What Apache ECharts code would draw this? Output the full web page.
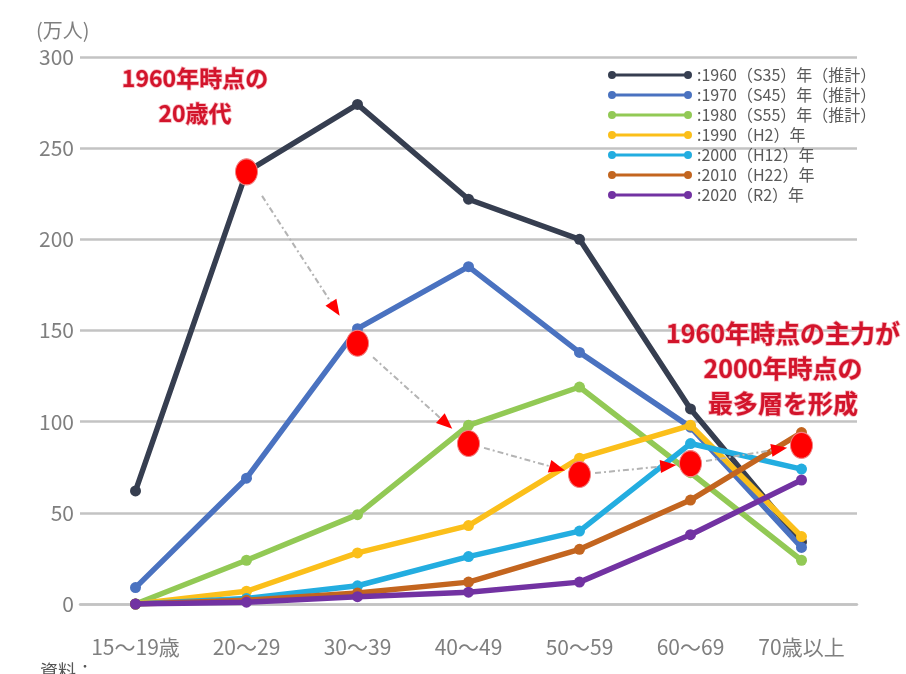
<!DOCTYPE html>
<html>
<head>
<meta charset="utf-8">
<script src="https://cdn.jsdelivr.net/npm/echarts@6/dist/echarts.min.js"></script>
<style>
html,body{margin:0;padding:0;background:#fff;}
#chart{width:906px;height:674px;}
</style>
</head>
<body>
<div id="chart"></div>
<script>
// ---- data ----
const categories = ['15～19歳', '20～29', '30～39', '40～49', '50～59', '60～69', '70歳以上'];
const seriesNames = [
  ':1960（S35）年（推計）',
  ':1970（S45）年（推計）',
  ':1980（S55）年（推計）',
  ':1990（H2）年',
  ':2000（H12）年',
  ':2010（H22）年',
  ':2020（R2）年'
];
const v1960 = [62, 237, 274, 222, 200, 107, 34];
const v1970 = [9, 69, 151, 185, 138, 97, 31];
const v1980 = [0, 24, 49, 98, 119, 72, 24];
const v1990 = [0, 7, 28, 43, 80, 98, 37];
const v2000 = [0, 3, 10, 26, 40, 88, 74];
const v2010 = [0, 2, 6, 12, 30, 57, 94];
const v2020 = [0, 1, 4, 6.5, 12, 38, 68];
// cohort in its 20s in 1960, followed decade by decade
const cohortX = [1, 2, 3, 4, 5, 6];
const cohortY = [237, 143, 88, 71, 77, 87];
const yMin = 0, yMax = 300, yStep = 50;
const note1 = ['1960年時点の', '20歳代'];
const note2 = ['1960年時点の主力が', '2000年時点の', '最多層を形成'];
const unitLabel = '(万人)';
const sourceLabel = '資料：';

// ---- styles ----
const colors = ['#363e50', '#4a72c0', '#92c955', '#fbbf1a', '#23ade0', '#c3651f', '#7232a2'];
const FONT = "'Noto Sans CJK JP', sans-serif";
const ICON = 'path://M4,0A4,4,0,1,1,4,8A4,4,0,1,1,4,0ZM80,0A4,4,0,1,1,80,8A4,4,0,1,1,80,0ZM4,2.5L80,2.5L80,5.5L4,5.5Z';

const allValues = [v1960, v1970, v1980, v1990, v2000, v2010, v2020];

const lineSeries = allValues.map((vals, i) => ({
  name: seriesNames[i],
  type: 'line',
  data: vals,
  symbol: 'circle',
  symbolSize: 11,
  lineStyle: { width: 5.5, color: colors[i] },
  itemStyle: { color: colors[i] },
  z: 2 + i * 0.01,
  animation: false
}));

const cohortPts = cohortX.map((x, i) => [x, cohortY[i]]);
function lerp(a, b, t) { return [a[0] + (b[0] - a[0]) * t, a[1] + (b[1] - a[1]) * t]; }
const guideLines = [];
const headLines = [];
for (let i = 0; i < cohortPts.length - 1; i++) {
  const a = cohortPts[i], b = cohortPts[i + 1];
  guideLines.push([{ coord: lerp(a, b, 0.14) }, { coord: lerp(a, b, 0.8) }]);
  headLines.push([{ coord: lerp(a, b, 0.78) }, { coord: lerp(a, b, 0.8) }]);
}

const option = {
  backgroundColor: '#ffffff',
  animation: false,
  textStyle: { fontFamily: FONT },
  grid: { left: 80, right: 49, top: 57, bottom: 70, containLabel: false },
  legend: {
    data: seriesNames,
    orient: 'vertical',
    left: 603,
    top: 60,
    itemWidth: 84,
    itemHeight: 8,
    itemGap: 0,
    icon: ICON,
    textStyle: { fontFamily: FONT, fontSize: 16, color: '#595959', lineHeight: 20 }
  },
  xAxis: [
    {
      type: 'category',
      data: categories,
      boundaryGap: true,
      axisLine: { show: true, lineStyle: { color: '#c3c3c3', width: 2.5 } },
      axisTick: { show: false },
      axisLabel: { color: '#7f7f7f', fontSize: 21, margin: 33, interval: 0, hideOverlap: false, fontFamily: FONT }
    },
    {
      type: 'value',
      min: -0.5,
      max: 6.5,
      show: false
    }
  ],
  yAxis: {
    type: 'value',
    min: yMin,
    max: yMax,
    interval: yStep,
    axisLine: { show: false },
    axisTick: { show: false },
    axisLabel: { color: '#7f7f7f', fontSize: 21, margin: 6, fontFamily: FONT },
    splitLine: { lineStyle: { color: '#c3c3c3', width: 2.5 } }
  },
  series: lineSeries.concat([
    {
      name: 'guides',
      type: 'line',
      xAxisIndex: 1,
      data: cohortPts,
      showSymbol: false,
      symbol: 'none',
      lineStyle: { opacity: 0 },
      silent: true,
      z: 4,
      markLine: {
        silent: true,
        symbol: ['none', 'none'],
        label: { show: false },
        lineStyle: { color: '#b4b4b4', width: 2, type: [6, 3, 2, 3] },
        data: guideLines
      }
    },
    {
      name: 'cohort',
      type: 'scatter',
      xAxisIndex: 1,
      data: cohortPts,
      symbol: 'circle',
      symbolSize: [22, 26],
      itemStyle: { color: '#ff0000', borderColor: '#f08080', borderWidth: 1, opacity: 1 },
      z: 6,
      markLine: {
        silent: true,
        symbol: ['none', 'triangle'],
        symbolSize: [13, 16],
        label: { show: false },
        lineStyle: { color: '#ff0000', width: 1, type: 'solid', opacity: 1 },
        data: headLines
      }
    }
  ]),
  graphic: [
    {
      type: 'text', left: 36, top: 20,
      style: { text: unitLabel, fontSize: 20, fill: '#7f7f7f', fontFamily: FONT }
    },
    {
      type: 'text', left: 40, top: 662,
      style: { text: sourceLabel, fontSize: 18, fill: '#555555', fontFamily: FONT }
    },
    {
      type: 'text', x: 195, y: 61, z: 10,
      style: {
        text: note1.join('\n'), fontSize: 23, fontWeight: 'bold', lineHeight: 35,
        align: 'center', fill: '#d2142b', stroke: '#f6b1b9', lineWidth: 1.5, fontFamily: FONT
      }
    },
    {
      type: 'text', x: 783, y: 316, z: 10,
      style: {
        text: note2.join('\n'), fontSize: 25, fontWeight: 'bold', lineHeight: 35,
        align: 'center', fill: '#d2142b', stroke: '#f6b1b9', lineWidth: 1.5, fontFamily: FONT
      }
    }
  ]
};

const chart = echarts.init(document.getElementById('chart'), null, { renderer: 'canvas' });
chart.setOption(option);
</script>
</body>
</html>
